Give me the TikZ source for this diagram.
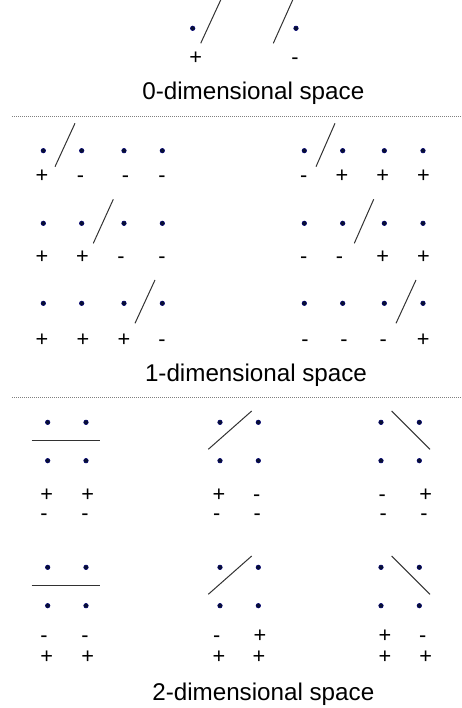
\documentclass[tikz,border=0pt]{standalone}
\usepackage{fontspec}
\setmainfont{Liberation Sans}
\usepackage{tikz}
\usepackage{xcolor}
\definecolor{dotblue}{RGB}{8,16,48}
\definecolor{slashgray}{RGB}{50,50,50}

\begin{document}
\begin{tikzpicture}[x=1pt, y=-1pt,
        sample/.style={circle, fill=dotblue, draw=blue!45!black, line width=0.5pt, inner sep=0pt, minimum size=4.6pt},
        sign/.style={inner sep=0pt, anchor=base, font=\fontsize{21.7}{26}\selectfont},
        heading/.style={inner sep=0pt, anchor=base, font=\fontsize{24.2}{29}\selectfont},
        cut/.style={slashgray, line width=1pt},
        divider/.style={gray, line width=0.6pt, dash pattern=on 1pt off 1pt}]
        \useasboundingbox (0,0) rectangle (462,708);

        \node (z1) [sample] at (192.7,28.3) {};
        \node (z2) [sample] at (296,28.3) {};
        \node (z1s) [sign] at (195.7,65) {+};
        \node (z2s) [sign] at (295,65) {-};
        \draw[cut] (220.7,0) -- (200.7,43.3);
        \draw[cut] (292.7,0) -- (273.3,43.3);
        \node (dim0) [heading] at (253.3,100) {0-dimensional space};
        \draw[divider] (12,116.7) -- (462,116.7);

        \node (l1a) [sample] at (43.3,150.7) {};
        \node (l1b) [sample] at (81.7,150.7) {};
        \node (l1c) [sample] at (124,150.7) {};
        \node (l1d) [sample] at (162.3,150.7) {};
        \node (l1as) [sign] at (42,183) {+};
        \node (l1bs) [sign] at (80.5,183) {-};
        \node (l1cs) [sign] at (125.5,183) {-};
        \node (l1ds) [sign] at (162,183) {-};
        \draw[cut] (75,123.3) -- (55,166.7);
        \node (r1a) [sample] at (304.3,150.7) {};
        \node (r1b) [sample] at (342.7,150.7) {};
        \node (r1c) [sample] at (384.3,150.7) {};
        \node (r1d) [sample] at (423,150.7) {};
        \node (r1as) [sign] at (303.7,183) {-};
        \node (r1bs) [sign] at (342,183) {+};
        \node (r1cs) [sign] at (382.7,183) {+};
        \node (r1ds) [sign] at (423.5,183) {+};
        \draw[cut] (335,123.3) -- (316,166.7);

        \node (l2a) [sample] at (43.3,223.3) {};
        \node (l2b) [sample] at (81.7,223.3) {};
        \node (l2c) [sample] at (124,223.3) {};
        \node (l2d) [sample] at (162.3,223.3) {};
        \node (l2as) [sign] at (42,263.7) {+};
        \node (l2bs) [sign] at (82.5,263.7) {+};
        \node (l2cs) [sign] at (121,263.7) {-};
        \node (l2ds) [sign] at (162,263.7) {-};
        \draw[cut] (113.3,199.3) -- (93.3,243.3);
        \node (r2a) [sample] at (304.3,223.3) {};
        \node (r2b) [sample] at (342.7,223.3) {};
        \node (r2c) [sample] at (384.3,223.3) {};
        \node (r2d) [sample] at (423,223.3) {};
        \node (r2as) [sign] at (303.7,263.7) {-};
        \node (r2bs) [sign] at (339.5,263.7) {-};
        \node (r2cs) [sign] at (382.7,263.7) {+};
        \node (r2ds) [sign] at (423.5,263.7) {+};
        \draw[cut] (373.7,199.3) -- (354.3,243.3);

        \node (l3a) [sample] at (43.3,303.3) {};
        \node (l3b) [sample] at (81.7,303.3) {};
        \node (l3c) [sample] at (124,303.3) {};
        \node (l3d) [sample] at (162.3,303.3) {};
        \node (l3as) [sign] at (42,346) {+};
        \node (l3bs) [sign] at (83,346) {+};
        \node (l3cs) [sign] at (124,346) {+};
        \node (l3ds) [sign] at (162,346) {-};
        \draw[cut] (155,280) -- (135,323.3);
        \node (r3a) [sample] at (304.3,303.3) {};
        \node (r3b) [sample] at (342.7,303.3) {};
        \node (r3c) [sample] at (384.3,303.3) {};
        \node (r3d) [sample] at (423,303.3) {};
        \node (r3as) [sign] at (305,346) {-};
        \node (r3bs) [sign] at (344,346) {-};
        \node (r3cs) [sign] at (383.3,346) {-};
        \node (r3ds) [sign] at (423.3,346) {+};
        \draw[cut] (416,280) -- (396,323.3);
        \node (dim1) [heading] at (256,381) {1-dimensional space};
        \draw[divider] (12,397.7) -- (462,397.7);

        \node (p1a) [sample] at (47.7,422.3) {};
        \node (p1b) [sample] at (86,422.3) {};
        \node (p1c) [sample] at (47.7,460.7) {};
        \node (p1d) [sample] at (86,460.7) {};
        \draw[cut] (31.7,440.3) -- (100,440.3);
        \node (p1as) [sign] at (46.7,501.3) {+};
        \node (p1bs) [sign] at (87.7,501.3) {+};
        \node (p1cs) [sign] at (44,520.3) {-};
        \node (p1ds) [sign] at (85,520.3) {-};
        \node (p2a) [sample] at (220,422.3) {};
        \node (p2b) [sample] at (258.3,422.3) {};
        \node (p2c) [sample] at (220,460.7) {};
        \node (p2d) [sample] at (258.3,460.7) {};
        \draw[cut] (208.3,449.3) -- (251.7,411);
        \node (p2as) [sign] at (219,501.3) {+};
        \node (p2bs) [sign] at (256.7,501.3) {-};
        \node (p2cs) [sign] at (216.7,520.3) {-};
        \node (p2ds) [sign] at (257.3,520.3) {-};
        \node (p3a) [sample] at (381,422.3) {};
        \node (p3b) [sample] at (419.3,422.3) {};
        \node (p3c) [sample] at (381,460.7) {};
        \node (p3d) [sample] at (419.3,460.7) {};
        \draw[cut] (391.7,411) -- (430,449.3);
        \node (p3as) [sign] at (382.3,501.3) {-};
        \node (p3bs) [sign] at (425.7,501.3) {+};
        \node (p3cs) [sign] at (383.3,520.3) {-};
        \node (p3ds) [sign] at (424,520.3) {-};

        \node (q1a) [sample] at (47.7,567.3) {};
        \node (q1b) [sample] at (86,567.3) {};
        \node (q1c) [sample] at (47.7,605.7) {};
        \node (q1d) [sample] at (86,605.7) {};
        \draw[cut] (31.7,585) -- (100,585);
        \node (q1as) [sign] at (44,642) {-};
        \node (q1bs) [sign] at (85,642) {-};
        \node (q1cs) [sign] at (46.7,663) {+};
        \node (q1ds) [sign] at (87.7,663) {+};
        \node (q2a) [sample] at (220,567.3) {};
        \node (q2b) [sample] at (258.3,567.3) {};
        \node (q2c) [sample] at (220,605.7) {};
        \node (q2d) [sample] at (258.3,605.7) {};
        \draw[cut] (208.3,594.3) -- (251.7,556);
        \node (q2as) [sign] at (216.7,642) {-};
        \node (q2bs) [sign] at (260,642) {+};
        \node (q2cs) [sign] at (219,663) {+};
        \node (q2ds) [sign] at (259,663) {+};
        \node (q3a) [sample] at (381,567.3) {};
        \node (q3b) [sample] at (419.3,567.3) {};
        \node (q3c) [sample] at (381,605.7) {};
        \node (q3d) [sample] at (419.3,605.7) {};
        \draw[cut] (391.7,556) -- (430,594.3);
        \node (q3as) [sign] at (385,642) {+};
        \node (q3bs) [sign] at (422.7,642) {-};
        \node (q3cs) [sign] at (385,663) {+};
        \node (q3ds) [sign] at (425.7,663) {+};
        \node (dim2) [heading] at (263.3,700) {2-dimensional space};
    \end{tikzpicture}
\end{document}
